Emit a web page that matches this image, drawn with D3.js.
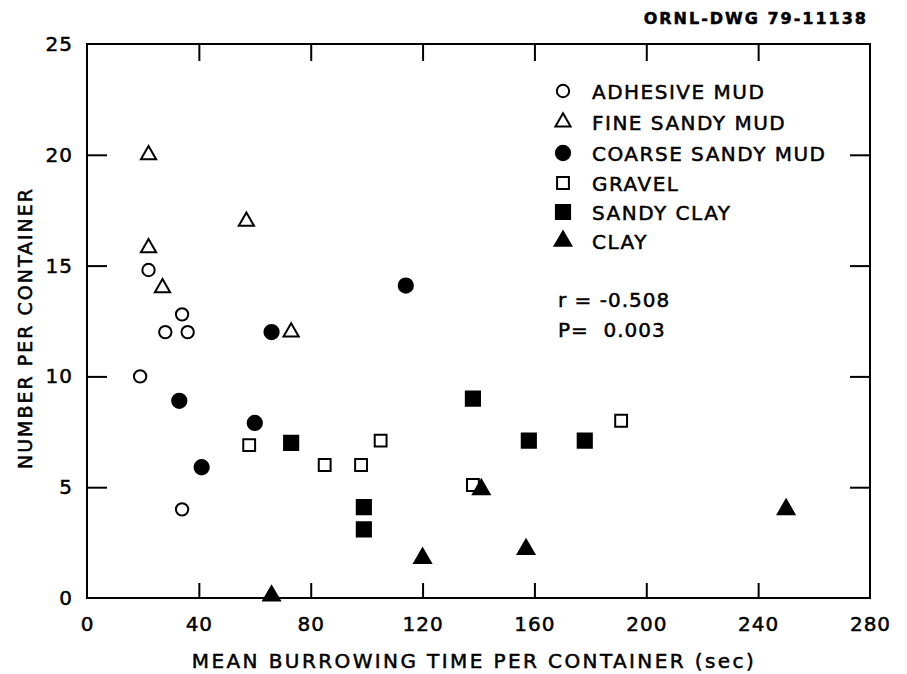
<!DOCTYPE html>
<html>
<head>
<meta charset="utf-8">
<script src="https://cdn.jsdelivr.net/npm/d3@7"></script>
<style>
  body { margin: 0; background: #fff; }
  text { font-family: "DejaVu Sans", sans-serif; fill: #000; stroke: #000; stroke-width: 0.5px; }
  .tick text { font-size: 20px; letter-spacing: 1px; }
  .tick line { stroke: #000; stroke-width: 2px; }
  .domain { display: none; }
</style>
</head>
<body>
<div id="chart"></div>
<script>
// Series values (x = sec, y = number)
var adhesiveX = [19, 22, 34, 28, 36, 34];
var adhesiveY = [10, 14.8, 12.8, 12, 12, 4];
var fineX = [22, 22, 27, 57, 73];
var fineY = [20, 15.8, 14, 17, 12];
var coarseX = [66, 114, 33, 60, 41];
var coarseY = [12, 14.1, 8.9, 7.9, 5.9];
var gravelX = [58, 85, 98, 105, 138, 191];
var gravelY = [6.9, 6, 6, 7.1, 5.1, 8];
var sandyClayX = [73, 99, 99, 138, 158, 178];
var sandyClayY = [7, 4.1, 3.1, 9, 7.1, 7.1];
var clayX = [66, 120, 141, 157, 250];
var clayY = [0.1, 1.8, 4.9, 2.2, 4];

var xTicks = [0, 40, 80, 120, 160, 200, 240, 280];
var yTicks = [0, 5, 10, 15, 20, 25];
var legendNames = ["ADHESIVE MUD", "FINE SANDY MUD", "COARSE SANDY MUD", "GRAVEL", "SANDY CLAY", "CLAY"];

var svgWidth = 907;
var svgHeight = 674;

var svg = d3.select("#chart")
    .append("svg")
    .attr("width", svgWidth)
    .attr("height", svgHeight);

var xScale = d3.scaleLinear().domain([0, 280]).range([87, 870]);
var yScale = d3.scaleLinear().domain([0, 25]).range([598, 44]);

// frame
svg.append("rect")
    .attr("x", xScale(0))
    .attr("y", yScale(25))
    .attr("width", xScale(280) - xScale(0))
    .attr("height", yScale(0) - yScale(25))
    .attr("fill", "none")
    .attr("stroke", "#000")
    .attr("stroke-width", 2);

// axes with inward ticks
var inner = function(t) { return t > 0 && t < 25; };
var innerX = function(t) { return t > 0 && t < 280; };

var bottom = svg.append("g")
    .attr("transform", `translate(0, ${yScale(0)})`)
    .call(d3.axisBottom(xScale).tickValues(xTicks).tickSize(-15).tickPadding(19).tickFormat(d3.format("d")));
bottom.selectAll(".tick line").filter(d => !innerX(d)).remove();

var left = svg.append("g")
    .attr("transform", `translate(${xScale(0)}, 0)`)
    .call(d3.axisLeft(yScale).tickValues(yTicks).tickSize(-20).tickPadding(14).tickFormat(d3.format("d")));
left.selectAll(".tick line").filter(d => !inner(d)).remove();

svg.append("g")
    .attr("transform", `translate(0, ${yScale(25)})`)
    .call(d3.axisTop(xScale).tickValues(xTicks.filter(innerX)).tickSize(-17).tickFormat(""));

svg.append("g")
    .attr("transform", `translate(${xScale(280)}, 0)`)
    .call(d3.axisRight(yScale).tickValues(yTicks.filter(inner)).tickSize(-20).tickFormat(""));

// axis titles
svg.append("text")
    .attr("x", 474)
    .attr("y", 668)
    .attr("text-anchor", "middle")
    .attr("font-size", "20px")
    .attr("letter-spacing", "2.4px")
    .text("MEAN BURROWING TIME PER CONTAINER (sec)");

svg.append("text")
    .attr("transform", "translate(32, 328) rotate(-90)")
    .attr("text-anchor", "middle")
    .attr("font-size", "19px")
    .attr("letter-spacing", "2px")
    .text("NUMBER PER CONTAINER");

svg.append("text")
    .attr("x", 868)
    .attr("y", 24)
    .attr("text-anchor", "end")
    .attr("font-size", "16px")
    .attr("font-weight", "bold")
    .attr("letter-spacing", "2px")
    .text("ORNL-DWG 79-11138");

// marker styles
var styles = [
    { type: d3.symbolCircle, size: 120, fill: "none" },
    { type: d3.symbolTriangle, size: 100, fill: "none" },
    { type: d3.symbolCircle, size: 160, fill: "#000" },
    { type: d3.symbolSquare, size: 140, fill: "none" },
    { type: d3.symbolSquare, size: 200, fill: "#000" },
    { type: d3.symbolTriangle, size: 120, fill: "#000" }
];

var series = [
    d3.zip(adhesiveX, adhesiveY),
    d3.zip(fineX, fineY),
    d3.zip(coarseX, coarseY),
    d3.zip(gravelX, gravelY),
    d3.zip(sandyClayX, sandyClayY),
    d3.zip(clayX, clayY)
];

series.forEach(function(pts, i) {
    var st = styles[i];
    svg.append("g").selectAll("path")
        .data(pts)
        .enter()
        .append("path")
        .attr("d", d3.symbol().type(st.type).size(st.size))
        .attr("transform", d => `translate(${xScale(d[0])}, ${yScale(d[1])})`)
        .attr("fill", st.fill)
        .attr("stroke", "#000")
        .attr("stroke-width", 2);
});

// legend
var legendY = [91, 122, 153, 183, 212, 241];
var legend = svg.append("g");
legendNames.forEach(function(name, i) {
    var st = styles[i];
    legend.append("path")
        .attr("d", d3.symbol().type(st.type).size(st.size)())
        .attr("transform", `translate(563, ${legendY[i]})`)
        .attr("fill", st.fill)
        .attr("stroke", "#000")
        .attr("stroke-width", 2);
    legend.append("text")
        .attr("x", 592)
        .attr("y", legendY[i] + 8)
        .attr("font-size", "20px")
        .attr("letter-spacing", "1.5px")
        .text(name);
});

svg.append("text")
    .attr("x", 558)
    .attr("y", 307)
    .attr("font-size", "20px")
    .attr("letter-spacing", "1px")
    .text("r = -0.508");

svg.append("text")
    .attr("x", 558)
    .attr("y", 337)
    .attr("font-size", "20px")
    .attr("letter-spacing", "1px")
    .style("white-space", "pre")
    .text("P=  0.003");
</script>
</body>
</html>
